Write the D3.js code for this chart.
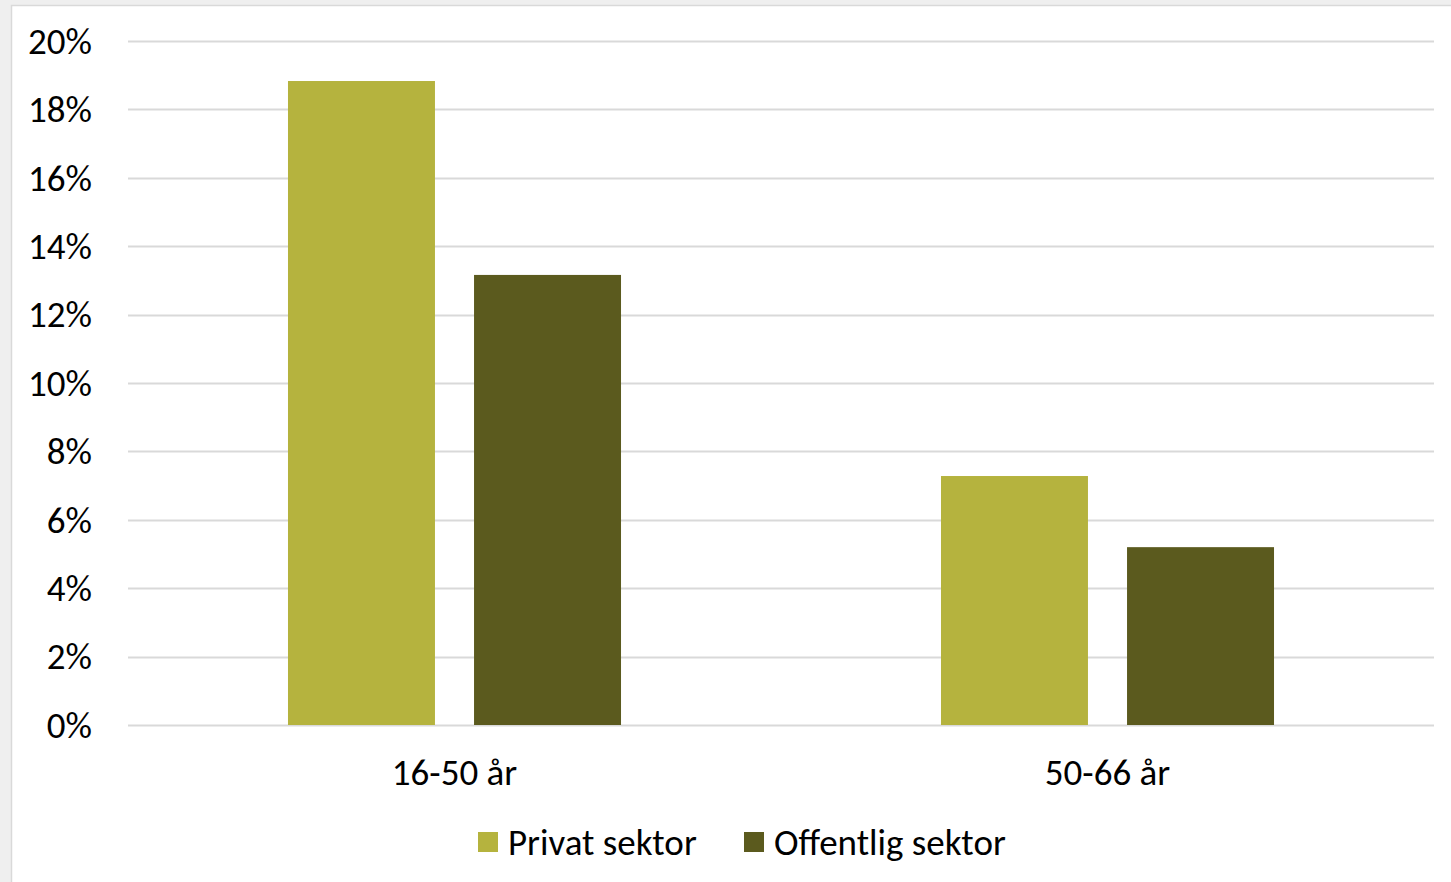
<!DOCTYPE html>
<html>
<head>
<meta charset="utf-8">
<script src="https://cdn.jsdelivr.net/npm/d3@7"></script>
<style>
  html, body { margin: 0; padding: 0; background: #efefef; }
  svg { display: block; }
  text { font-family: Calibri, Carlito, "Open Sans", "Noto Sans", sans-serif; fill: #000; }
</style>
</head>
<body>
<svg id="chart" width="1451" height="882"></svg>
<script>
const categories = ["16-50 år", "50-66 år"];
const seriesNames = ["Privat sektor", "Offentlig sektor"];
const privatValues = [0.1883, 0.0728];
const offentligValues = [0.1316, 0.0520];
const yTicks = [0, 0.02, 0.04, 0.06, 0.08, 0.10, 0.12, 0.14, 0.16, 0.18, 0.20];
const colors = ["#b5b33e", "#5b5a1e"];

const seriesValues = [privatValues, offentligValues];

const W = 1451, H = 882;
const FS = 37;
const svg = d3.select("#chart");

svg.append("rect").attr("x", 0).attr("y", 0).attr("width", W).attr("height", H).attr("fill", "#efefef");
svg.append("rect").attr("x", 11.5).attr("y", 5.5).attr("width", W).attr("height", H)
  .attr("fill", "#ffffff").attr("stroke", "#d9d9d9").attr("stroke-width", 1.5);

const plot = { left: 128, right: 1434, top: 41, bottom: 725 };

const y = d3.scaleLinear().domain([0, 0.20]).range([plot.bottom, plot.top]);
const x0 = d3.scaleBand().domain(categories).range([plot.left, plot.right]).padding(0);
const bw = x0.bandwidth();
const x1 = d3.scaleBand().domain(seriesNames)
  .range([bw * 0.245, bw * 0.755]).paddingInner(0.21).paddingOuter(0);

// gridlines
svg.append("g").selectAll("line").data(yTicks).join("line")
  .attr("x1", plot.left).attr("x2", plot.right)
  .attr("y1", d => Math.round(y(d)) + 0.5).attr("y2", d => Math.round(y(d)) + 0.5)
  .attr("stroke", "#d9d9d9").attr("stroke-width", 1.8);

// y labels
const yAxis = d3.axisLeft(y).tickValues(yTicks).tickFormat(d3.format(".0%")).tickSize(0).tickPadding(0);
const yg = svg.append("g").attr("transform", `translate(92,0)`).call(yAxis);
yg.select(".domain").remove();
yg.selectAll("text").attr("font-size", FS).attr("dy", "0.33em")
  .style("font-family", 'Calibri, Carlito, "Open Sans", sans-serif').attr("fill", "#000");

// bars
const groups = svg.append("g").selectAll("g").data(categories).join("g")
  .attr("transform", c => `translate(${x0(c)},0)`);
groups.selectAll("rect").data((c, i) => seriesNames.map((s, j) => ({ s, j, v: seriesValues[j][i] })))
  .join("rect")
  .attr("x", d => x1(d.s))
  .attr("width", x1.bandwidth())
  .attr("y", d => y(d.v))
  .attr("height", d => y(0) - y(d.v))
  .attr("fill", d => colors[d.j]);

// x labels
const xAxis = d3.axisBottom(x0).tickSize(0).tickPadding(0);
const xg = svg.append("g").attr("transform", `translate(0,${plot.bottom})`).call(xAxis);
xg.select(".domain").remove();
xg.selectAll("text").attr("font-size", FS).attr("dy", 0).attr("y", 60)
  .style("font-family", 'Calibri, Carlito, "Open Sans", sans-serif').attr("fill", "#000");

// legend
const legendX = [478, 744];
const lg = svg.append("g").selectAll("g").data(seriesNames).join("g")
  .attr("transform", (d, i) => `translate(${legendX[i]},832)`);
lg.append("rect").attr("width", 20).attr("height", 20).attr("fill", (d, i) => colors[i]);
lg.append("text").attr("x", 30).attr("y", 10).attr("dy", "0.34em").attr("font-size", FS).text(d => d);
</script>
</body>
</html>
